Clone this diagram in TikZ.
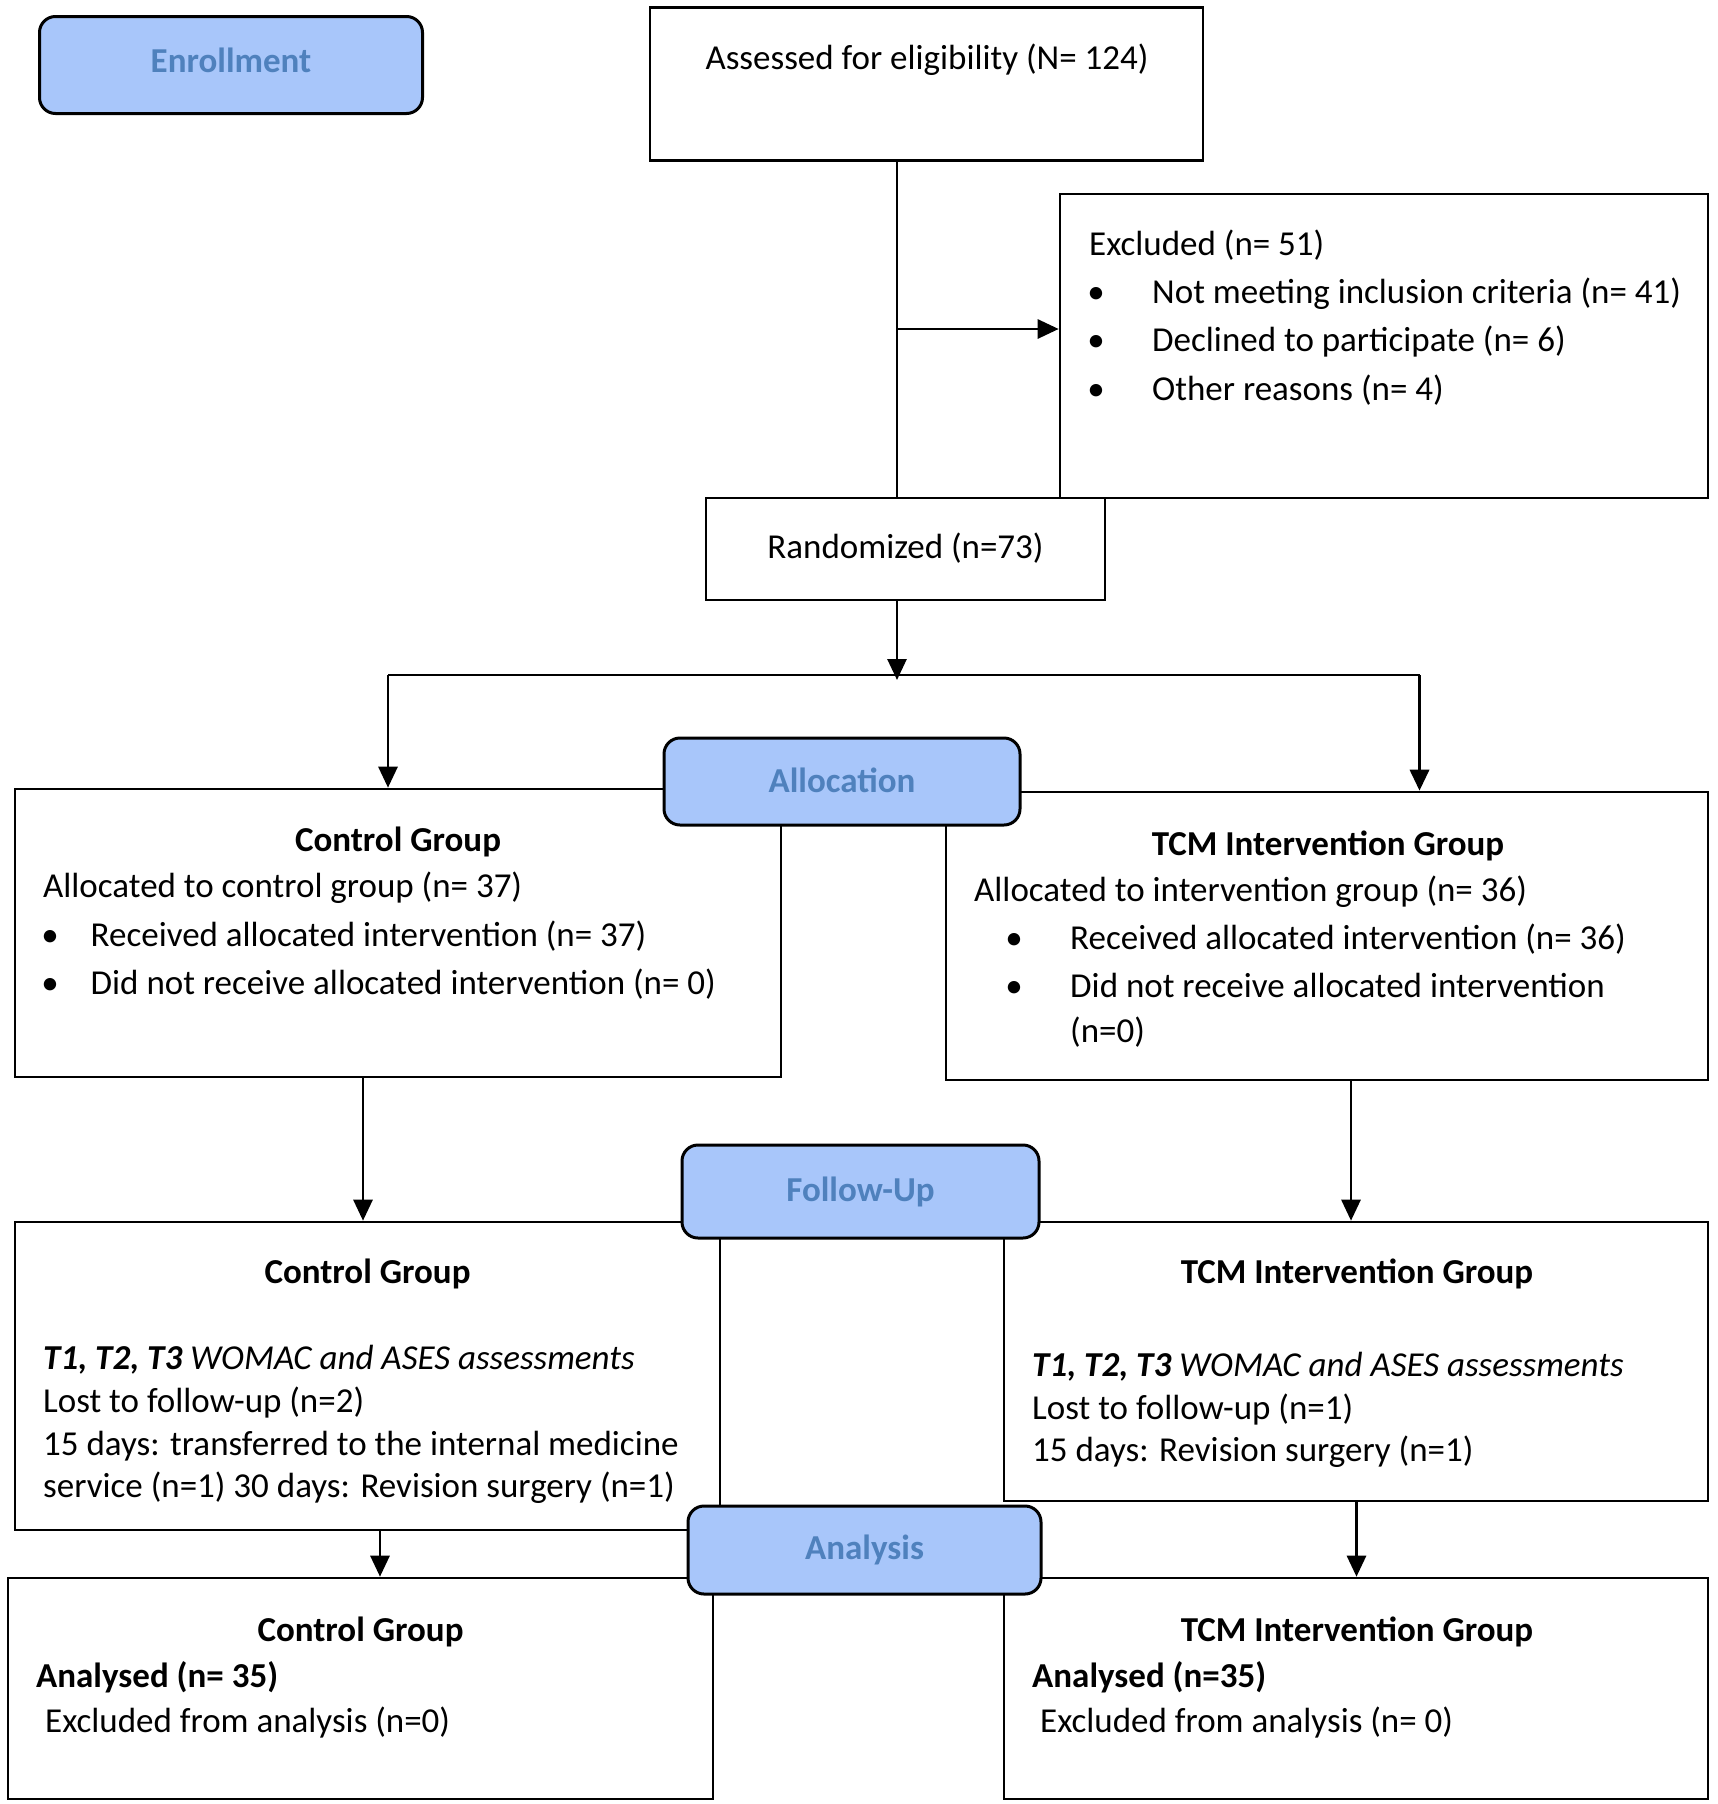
\documentclass[tikz,border=0pt]{standalone}
\usepackage{fontspec}
\setmainfont{Carlito}
\usetikzlibrary{arrows.meta}
\definecolor{labfill}{HTML}{A8C6FA}
\definecolor{labtext}{HTML}{4F81BD}
\tikzset{
  box/.style={draw=black, line width=2.6pt, fill=white, inner sep=0pt},
  lab/.style={draw=black, line width=3pt, fill=labfill, rounded corners=16pt, inner sep=0pt,
     text=labtext, font=\fontsize{35}{42}\selectfont\bfseries},
  txt/.style={inner sep=0pt, yshift=-9.5pt, font=\fontsize{35}{42}\selectfont},
  btxt/.style={inner sep=0pt, yshift=-9.5pt, font=\fontsize{35}{42}\selectfont\bfseries},
  conn/.style={line width=2.8pt},
  arr/.style={line width=2.8pt, -{Triangle[length=21pt,width=19pt]}},
}
\begin{document}
\begin{tikzpicture}[x=1pt,y=-1pt]
\useasboundingbox (0,0) rectangle (1717,1804);
% ---- white boxes
\node[box, minimum width=553pt, minimum height=153pt] (assess) at (926.5,84) {};
\node[box, minimum width=648pt, minimum height=304pt] (excl) at (1384,346) {};
\node[box, minimum width=399pt, minimum height=102pt] (rand) at (905.5,549) {};
\node[box, minimum width=766pt, minimum height=288pt] (ca) at (398,933) {};
\node[box, minimum width=762pt, minimum height=288pt] (ta) at (1327,936) {};
\node[box, minimum width=705pt, minimum height=308pt] (cf) at (367.5,1376) {};
\node[box, minimum width=704pt, minimum height=279pt] (tf) at (1356,1361.5) {};
\node[box, minimum width=705pt, minimum height=221pt] (can) at (360.5,1688.5) {};
\node[box, minimum width=704pt, minimum height=221pt] (tan) at (1356,1688.5) {};
% ---- stage labels
\node[lab, minimum width=383pt, minimum height=97pt] (enr) at (231,65) {\raisebox{10pt}{Enrollment}};
\node[lab, minimum width=356pt, minimum height=87pt] (alloc) at (842,781.5) {\raisebox{2pt}{Allocation}};
\node[lab, minimum width=357pt, minimum height=93pt] (fu) at (860.5,1191.5) {\raisebox{3pt}{Follow-Up}};
\node[lab, minimum width=353pt, minimum height=88pt] (ana) at (864.5,1550) {Analysis};
% ---- texts
\node[txt, anchor=mid] (t1) at (927,58) {Assessed for eligibility (N= 124)};
\node[txt, anchor=mid west] (t2) at (1089,244) {Excluded (n= 51)};
\foreach \yy/\tt [count=\i] in {292/Not meeting inclusion criteria (n= 41), 340/Declined to participate (n= 6), 389/Other reasons (n= 4)}{
  \node[txt, anchor=mid] (eb\i) at (1096,\yy) {\textbullet};
  \node[txt, anchor=mid west] (et\i) at (1152,\yy) {\tt};
}
\node[txt, anchor=mid] (t3) at (905.5,547) {Randomized (n=73)};
% allocation control
\node[btxt, anchor=mid] (c1) at (398,840) {Control Group};
\node[txt, anchor=mid west] (c2) at (43,886) {Allocated to control group (n= 37)};
\node[txt, anchor=mid] (cb1) at (50,935) {\textbullet};
\node[txt, anchor=mid west] (c3) at (90.5,935) {Received allocated intervention (n= 37)};
\node[txt, anchor=mid] (cb2) at (50,983) {\textbullet};
\node[txt, anchor=mid west] (c4) at (90.5,983) {Did not receive allocated intervention (n= 0)};
% allocation TCM
\node[btxt, anchor=mid] (m1) at (1328,844) {TCM Intervention Group};
\node[txt, anchor=mid west] (m2) at (974,890) {Allocated to intervention group (n= 36)};
\node[txt, anchor=mid] (mb1) at (1014,938) {\textbullet};
\node[txt, anchor=mid west] (m3) at (1070,938) {Received allocated intervention (n= 36)};
\node[txt, anchor=mid] (mb2) at (1014,985.5) {\textbullet};
\node[txt, anchor=mid west] (m4) at (1070,985.5) {Did not receive allocated intervention};
\node[txt, anchor=mid west] (m5) at (1070,1031) {(n=0)};
% follow-up control
\node[btxt, anchor=mid] (f1) at (367.5,1272) {Control Group};
\node[txt, anchor=mid west] (f2) at (43,1358) {\textbf{\textit{T1, T2, T3}} \textit{WOMAC and ASES assessments}};
\node[txt, anchor=mid west] (f3) at (43,1401) {Lost to follow-up (n=2)};
\node[txt, anchor=mid west] (f4) at (43,1443.5) {15 days: transferred to the internal medicine};
\node[txt, anchor=mid west] (f5) at (43,1486) {service (n=1) 30 days: Revision surgery (n=1)};
% follow-up TCM
\node[btxt, anchor=mid] (g1) at (1357,1272) {TCM Intervention Group};
\node[txt, anchor=mid west] (g2) at (1032,1365) {\textbf{\textit{T1, T2, T3}} \textit{WOMAC and ASES assessments}};
\node[txt, anchor=mid west] (g3) at (1032,1408) {Lost to follow-up (n=1)};
\node[txt, anchor=mid west] (g4) at (1032,1450) {15 days: Revision surgery (n=1)};
% analysis control
\node[btxt, anchor=mid] (a1) at (360.5,1629.5) {Control Group};
\node[btxt, anchor=mid west] (a2) at (36,1676) {Analysed (n= 35)};
\node[txt, anchor=mid west] (a3) at (45,1721) {Excluded from analysis (n=0)};
% analysis TCM
\node[btxt, anchor=mid] (b1) at (1357,1629.5) {TCM Intervention Group};
\node[btxt, anchor=mid west] (b2) at (1032,1676) {Analysed (n=35)};
\node[txt, anchor=mid west] (b3) at (1040,1721) {Excluded from analysis (n= 0)};
% ---- connectors
\coordinate (j1) at (897,329);
\coordinate (sp) at (897,675);
\coordinate (spL) at (388,675);
\coordinate (spR) at (1419.5,675);
\draw[conn] (assess.south -| j1) -- (rand.north -| j1);
\draw[arr] (j1) -- (excl.west |- j1);
\draw[arr] (rand.south -| sp) -- ([yshift=-5pt]sp);
\draw[conn] (spL) -- (spR);
\draw[arr] (spL) -- (ca.north -| spL);
\draw[arr, line width=3.4pt] (spR) -- (ta.north -| spR);
\coordinate (xc) at (363,0);
\coordinate (xt) at (1351,0);
\draw[arr] (ca.south -| xc) -- (cf.north -| xc);
\draw[arr] (ta.south -| xt) -- (tf.north -| xt);
\coordinate (xc2) at (380,0);
\coordinate (xt2) at (1356.5,0);
\draw[arr] (cf.south -| xc2) -- (can.north -| xc2);
\draw[arr] (tf.south -| xt2) -- (tan.north -| xt2);
\end{tikzpicture}
\end{document}
